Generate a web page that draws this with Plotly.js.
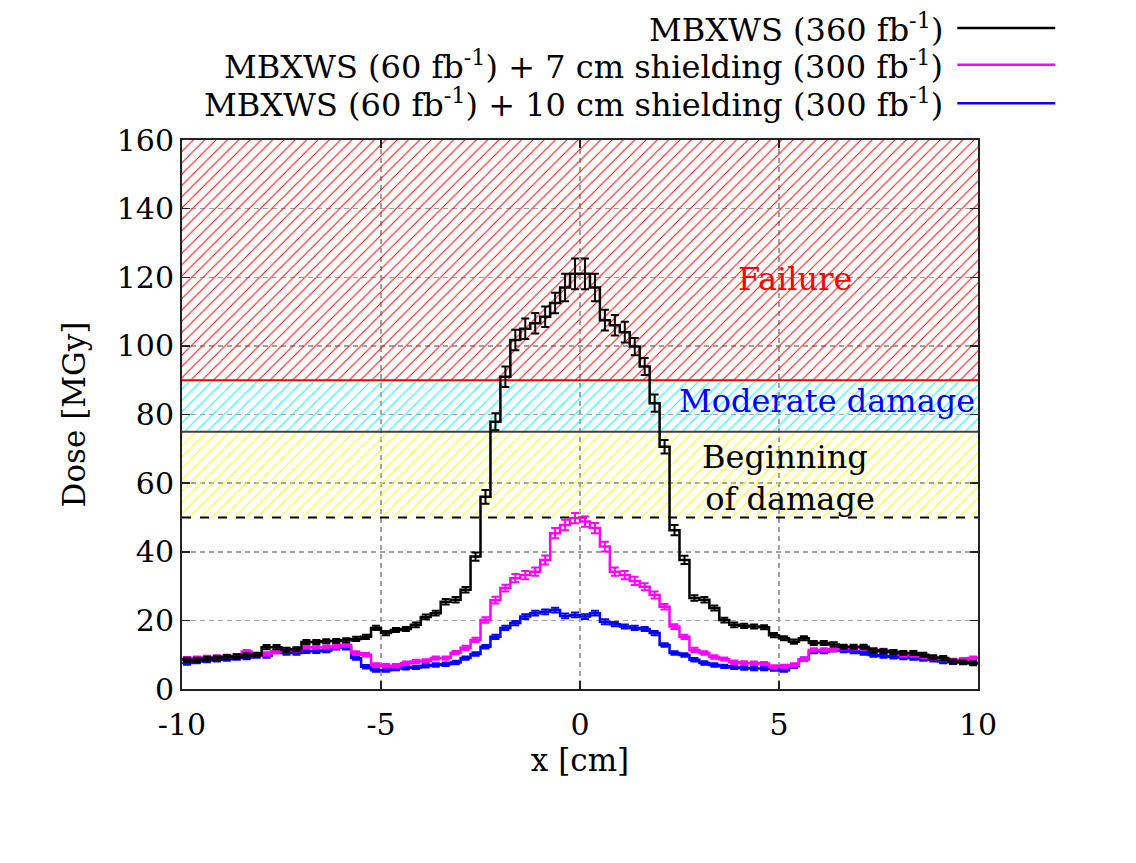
<!DOCTYPE html>
<html>
<head>
<meta charset="utf-8">
<script src="https://cdn.plot.ly/plotly-3.0.1.min.js"></script>
<style>html,body{margin:0;padding:0;background:#fff;}#chart{width:1136px;height:863px;}</style>
</head>
<body>
<div id="chart"></div>
<script>
// ---- data ----
const xMin = -10, xMax = 10, binWidth = 0.25;

const blackDose = [
  8.5, 8.5, 8.8, 9.0, 9.3, 9.5, 9.8, 10.0,
  12.2, 12.2, 11.4, 11.6, 13.7, 13.7, 13.9, 14.0,
  14.2, 14.6, 15.2, 17.8, 16.3, 17.2, 17.5, 18.7,
  21.0, 22.1, 25.4, 26.0, 28.9, 38.6, 56.0, 77.9,
  91.0, 101.7, 105.0, 106.6, 108.5, 112.5, 117.0, 121.0,
  121.0, 117.0, 107.5, 106.0, 104.0, 99.8, 94.0, 83.3,
  70.6, 46.3, 37.6, 26.5, 26.0, 23.6, 20.1, 18.7,
  18.4, 18.2, 18.0, 15.7, 14.8, 13.8, 14.8, 13.4,
  13.4, 13.0, 12.3, 12.3, 12.3, 11.2, 11.0, 10.8,
  10.5, 10.5, 10.0, 9.2, 9.0, 8.0, 7.8, 7.5
];
const blackErr = [
  0.6, 0.6, 0.6, 0.6, 0.6, 0.6, 0.6, 0.6,
  0.6, 0.6, 0.6, 0.6, 0.6, 0.6, 0.6, 0.6,
  0.6, 0.6, 0.6, 0.6, 0.6, 0.6, 0.6, 0.7,
  0.7, 0.7, 0.8, 0.8, 0.8, 1.2, 2.0, 2.5,
  3.0, 3.0, 3.0, 3.0, 3.0, 3.0, 4.0, 4.5,
  4.5, 4.0, 3.0, 3.0, 3.0, 2.5, 2.5, 2.5,
  2.0, 1.5, 1.2, 0.8, 0.8, 0.7, 0.7, 0.7,
  0.6, 0.6, 0.6, 0.6, 0.6, 0.6, 0.6, 0.6,
  0.6, 0.6, 0.6, 0.6, 0.6, 0.6, 0.6, 0.6,
  0.6, 0.6, 0.6, 0.6, 0.6, 0.6, 0.6, 0.6
];
const magentaDose = [
  8.8, 9.0, 9.2, 9.3, 9.5, 9.7, 10.9, 9.9,
  10.2, 10.9, 11.4, 11.4, 12.2, 12.2, 12.2, 12.4,
  12.8, 10.5, 10.0, 7.0, 6.8, 6.8, 7.5, 8.0,
  8.2, 9.0, 9.0, 10.6, 12.0, 14.3, 20.1, 25.9,
  29.4, 32.3, 33.2, 34.2, 37.6, 45.4, 47.8, 49.8,
  48.8, 46.9, 41.5, 34.2, 33.2, 31.5, 29.8, 27.4,
  24.0, 18.2, 15.2, 11.4, 10.5, 9.3, 8.7, 7.8,
  7.6, 7.5, 7.4, 6.4, 6.6, 7.0, 8.7, 11.4,
  11.4, 11.6, 12.0, 12.0, 12.0, 11.4, 11.2, 10.8,
  9.9, 9.9, 9.5, 9.0, 8.8, 8.3, 8.5, 9.0
];
const magentaErr = [
  0.5, 0.5, 0.5, 0.5, 0.5, 0.5, 0.5, 0.5,
  0.5, 0.5, 0.5, 0.5, 0.5, 0.5, 0.5, 0.5,
  0.5, 0.5, 0.5, 0.5, 0.5, 0.5, 0.5, 0.5,
  0.5, 0.5, 0.5, 0.5, 0.6, 0.6, 0.8, 1.0,
  1.0, 1.2, 1.2, 1.2, 1.3, 1.5, 1.5, 1.5,
  1.5, 1.5, 1.4, 1.2, 1.2, 1.2, 1.0, 1.0,
  0.8, 0.7, 0.6, 0.6, 0.5, 0.5, 0.5, 0.5,
  0.5, 0.5, 0.5, 0.5, 0.5, 0.5, 0.5, 0.5,
  0.5, 0.5, 0.5, 0.5, 0.5, 0.5, 0.5, 0.5,
  0.5, 0.5, 0.5, 0.5, 0.5, 0.5, 0.5, 0.5
];
const blueDose = [
  7.6, 8.0, 8.3, 8.5, 8.7, 9.0, 9.2, 9.6,
  9.6, 10.9, 10.5, 10.5, 11.0, 11.0, 11.2, 12.0,
  12.0, 9.0, 6.5, 5.5, 5.5, 6.0, 6.2, 6.3,
  6.8, 7.0, 7.2, 7.7, 9.0, 10.2, 12.3, 15.2,
  17.8, 19.2, 21.1, 22.1, 22.5, 23.0, 21.3, 21.6,
  21.1, 22.1, 19.6, 18.9, 18.2, 17.8, 17.5, 16.3,
  12.8, 10.5, 9.9, 8.5, 7.6, 7.0, 6.6, 6.3,
  6.1, 6.0, 6.0, 5.8, 5.5, 6.6, 8.7, 10.9,
  10.9, 11.4, 11.2, 10.9, 10.5, 9.9, 9.6, 9.4,
  9.2, 9.0, 8.7, 8.5, 8.0, 7.8, 7.8, 7.6
];
const blueErr = [
  0.5, 0.5, 0.5, 0.5, 0.5, 0.5, 0.5, 0.5,
  0.5, 0.5, 0.5, 0.5, 0.5, 0.5, 0.5, 0.5,
  0.5, 0.5, 0.5, 0.5, 0.5, 0.5, 0.5, 0.5,
  0.5, 0.5, 0.5, 0.5, 0.5, 0.5, 0.5, 0.6,
  0.6, 0.6, 0.7, 0.7, 0.7, 0.7, 0.7, 0.7,
  0.7, 0.7, 0.7, 0.6, 0.6, 0.6, 0.6, 0.6,
  0.5, 0.5, 0.5, 0.5, 0.5, 0.5, 0.5, 0.5,
  0.5, 0.5, 0.5, 0.5, 0.5, 0.5, 0.5, 0.5,
  0.5, 0.5, 0.5, 0.5, 0.5, 0.5, 0.5, 0.5,
  0.5, 0.5, 0.5, 0.5, 0.5, 0.5, 0.5, 0.5
];

const seriesNames = [
  'MBXWS (360 fb<sup>-1</sup>)',
  'MBXWS (60 fb<sup>-1</sup>) + 7 cm shielding (300 fb<sup>-1</sup>)',
  'MBXWS (60 fb<sup>-1</sup>) + 10 cm shielding (300 fb<sup>-1</sup>)'
];
const seriesColors = ['#000000', '#ff00ff', '#0000ff'];

// damage zones: [lower, upper]
const zoneLabels = ['Beginning<br> of damage', 'Moderate damage', 'Failure'];
const zoneLower = [50, 75, 90];
const zoneUpper = [75, 90, 160];
const zoneColors = ['#ffff00', '#00ffff', '#ff0000'];
const zoneLineColors = ['#000000', '#404040', '#ff0000'];
const zoneLineDash = ['dash', 'solid', 'solid'];
const zoneTextColors = ['#000000', '#0000ff', '#ff0000'];
const zoneTextX = [5.15, 6.2, 5.4];
const zoneTextY = [61.5, 84, 119.5];

const xTicks = [-10, -5, 0, 5, 10];
const yTicks = [0, 20, 40, 60, 80, 100, 120, 140, 160];

// ---- build ----
const nBins = blackDose.length;
const edges = [], centers = [];
for (let i = 0; i <= nBins; i++) edges.push(xMin + i * binWidth);
for (let i = 0; i < nBins; i++) centers.push(xMin + (i + 0.5) * binWidth);

const FONT = 'DejaVu Serif, serif';
const FS = 31;
const traces = [];

// zones (hatched)
for (let k = 0; k < zoneLower.length; k++) {
  traces.push({
    x: [xMin, xMax, xMax, xMin, xMin],
    y: [zoneLower[k], zoneLower[k], zoneUpper[k], zoneUpper[k], zoneLower[k]],
    mode: 'lines', fill: 'toself', fillcolor: 'rgba(255,255,255,0)',
    fillpattern: {shape: '/', fgcolor: zoneColors[k], fgopacity: 1, size: 8, solidity: 0.12},
    line: {width: 0, color: 'rgba(0,0,0,0)'},
    hoverinfo: 'skip', showlegend: false
  });
  traces.push({
    x: [xMin, xMax], y: [zoneLower[k], zoneLower[k]],
    mode: 'lines', line: {color: zoneLineColors[k], width: 2, dash: zoneLineDash[k]},
    hoverinfo: 'skip', showlegend: false
  });
}

const dataSets = [
  {y: blueDose, e: blueErr, c: seriesColors[2], n: seriesNames[2]},
  {y: magentaDose, e: magentaErr, c: seriesColors[1], n: seriesNames[1]},
  {y: blackDose, e: blackErr, c: seriesColors[0], n: seriesNames[0]}
];
dataSets.forEach(d => {
  traces.push({
    x: edges, y: d.y.concat([d.y[d.y.length - 1]]),
    mode: 'lines', line: {shape: 'hv', color: d.c, width: 2.5},
    name: d.n, showlegend: false
  });
  traces.push({
    x: centers, y: d.y, mode: 'markers',
    marker: {size: 1, color: d.c},
    error_y: {type: 'data', array: d.e, visible: true, color: d.c, thickness: 2, width: 4},
    hoverinfo: 'skip', showlegend: false
  });
});

// legend drawn as annotations + line samples (right-side symbols)
const annotations = [];
const shapes = [];
const legendY = [1.204, 1.137, 1.067];
for (let k = 0; k < 3; k++) {
  annotations.push({
    xref: 'paper', yref: 'paper', x: 0.958, y: legendY[k],
    xanchor: 'right', yanchor: 'middle', showarrow: false,
    text: seriesNames[k], font: {family: FONT, size: FS + 1, color: '#000'}
  });
  shapes.push({
    type: 'line', xref: 'paper', yref: 'paper',
    x0: 0.974, x1: 1.097, y0: legendY[k], y1: legendY[k],
    line: {color: seriesColors[k], width: 2.5}
  });
}
for (let k = 0; k < zoneLabels.length; k++) {
  annotations.push({
    xref: 'x', yref: 'y', x: zoneTextX[k], y: zoneTextY[k],
    xanchor: 'center', yanchor: 'middle', showarrow: false,
    text: zoneLabels[k], align: 'center',
    font: {family: FONT, size: FS + 1, color: zoneTextColors[k]}
  });
}

const layout = {
  width: 1136, height: 863,
  margin: {l: 182, r: 158, t: 140, b: 174},
  paper_bgcolor: '#ffffff', plot_bgcolor: '#ffffff',
  font: {family: FONT, size: FS, color: '#000'},
  showlegend: false,
  xaxis: {
    range: [xMin, xMax], tickvals: xTicks, ticktext: xTicks.map(String),
    showgrid: true, gridcolor: '#a0a0a0', griddash: '5px,4px', gridwidth: 1.5,
    zeroline: false, showline: true, linecolor: '#222', linewidth: 2, mirror: 'allticks',
    ticks: 'inside', ticklen: 8, tickcolor: '#222', tickwidth: 1.5,
    tickfont: {family: FONT, size: FS - 1}, layer: 'above traces',
    ticklabelstandoff: 8,
    title: {text: 'x [cm]', font: {family: FONT, size: FS}, standoff: 0}
  },
  yaxis: {
    range: [0, 160], tickvals: yTicks, ticktext: yTicks.map(String),
    showgrid: true, gridcolor: '#a0a0a0', griddash: '5px,4px', gridwidth: 1.5,
    zeroline: false, showline: true, linecolor: '#222', linewidth: 2, mirror: 'allticks',
    ticks: 'inside', ticklen: 8, tickcolor: '#222', tickwidth: 1.5,
    tickfont: {family: FONT, size: FS - 1}, layer: 'above traces',
    title: {text: 'Dose [MGy]', font: {family: FONT, size: FS}, standoff: 22}
  },
  annotations: annotations,
  shapes: shapes
};

Plotly.newPlot('chart', traces, layout, {displayModeBar: false, staticPlot: true});
</script>
</body>
</html>
